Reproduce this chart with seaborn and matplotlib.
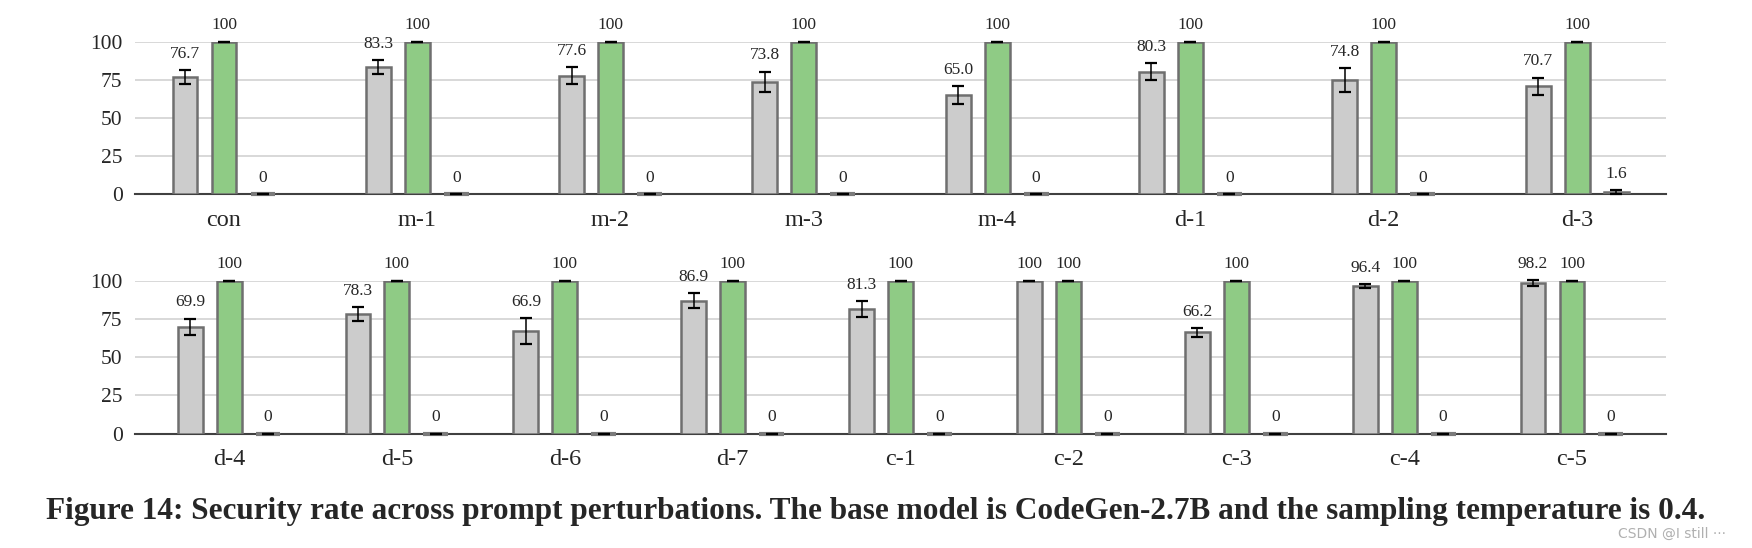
import numpy as np
import pandas as pd
import matplotlib
matplotlib.use('Agg')
import matplotlib.pyplot as plt
import seaborn as sns

# top row
top_cats = ['con', 'm-1', 'm-2', 'm-3', 'm-4', 'd-1', 'd-2', 'd-3']
top_lm = [76.7, 83.3, 77.6, 73.8, 65.0, 80.3, 74.8, 70.7]
top_lm_err = [4.5, 4.4, 5.5, 6.5, 5.7, 5.7, 7.7, 5.7]
top_sec = [100, 100, 100, 100, 100, 100, 100, 100]
top_sec_err = [0, 0, 0, 0, 0, 0, 0, 0]
top_vul = [0, 0, 0, 0, 0, 0, 0, 1.6]
top_vul_err = [0, 0, 0, 0, 0, 0, 0, 1.2]

# bottom row
bot_cats = ['d-4', 'd-5', 'd-6', 'd-7', 'c-1', 'c-2', 'c-3', 'c-4', 'c-5']
bot_lm = [69.9, 78.3, 66.9, 86.9, 81.3, 100, 66.2, 96.4, 98.2]
bot_lm_err = [5.3, 4.4, 8.5, 4.8, 5.3, 0, 2.7, 1.5, 2.0]
bot_sec = [100, 100, 100, 100, 100, 100, 100, 100, 100]
bot_sec_err = [0, 0, 0, 0, 0, 0, 0, 0, 0]
bot_vul = [0, 0, 0, 0, 0, 0, 0, 0, 0]
bot_vul_err = [0, 0, 0, 0, 0, 0, 0, 0, 0]

series = ['LM', 'SVEN-sec', 'SVEN-vul']
colors = ['#cccccc', '#8fcb85', '#f2a7a7']
caption = ('Figure 14: Security rate across prompt perturbations. '
           'The base model is CodeGen-2.7B and the sampling temperature is 0.4.')

sns.set_style('white')
plt.rcParams['font.family'] = ['Liberation Serif', 'DejaVu Serif']


def make_df(cats, lm, sec, vul):
    rows = []
    for name, vals in zip(series, [lm, sec, vul]):
        for c, v in zip(cats, vals):
            rows.append({'cat': c, 'series': name, 'value': v})
    return pd.DataFrame(rows)


def fmt(v):
    return f'{v:.0f}' if v in (0, 100) else f'{v:.1f}'


def draw(ax, cats, lm, lm_err, sec, sec_err, vul, vul_err, width, pad):
    df = make_df(cats, lm, sec, vul)
    sns.barplot(data=df, x='cat', y='value', hue='series', hue_order=series,
                palette=colors, saturation=1, width=width, gap=0.36, errorbar=None,
                edgecolor='#6f6f6f', linewidth=1.8, legend=False, ax=ax, zorder=3)
    for cont, vals, errs in zip(ax.containers, [lm, sec, vul], [lm_err, sec_err, vul_err]):
        xs = [p.get_x() + p.get_width() / 2 for p in cont.patches]
        for p, v in zip(cont.patches, vals):
            if v == 0:
                # flat bar: draw its outline as a thick grey stub on the axis
                ax.plot([p.get_x(), p.get_x() + p.get_width()], [0, 0], color='#7a7a7a',
                        linewidth=3, solid_capstyle='butt', zorder=4, clip_on=False)
        ax.errorbar(xs, vals, yerr=errs, fmt='none', ecolor='black',
                    elinewidth=1.1, capsize=4.2, capthick=1.6, zorder=6, clip_on=False)
        for x, v, e in zip(xs, vals, errs):
            ax.annotate(fmt(v), (x, v + e), xytext=(0, 6), textcoords='offset points',
                        ha='center', va='bottom', fontsize=12.5, annotation_clip=False)
    n = len(cats)
    ax.set_xlim(-pad, n - 1 + pad)
    ax.set_ylim(0, 100)
    ax.set_yticks([0, 25, 50, 75, 100])
    ax.yaxis.grid(True, color='#d6d6d6', linewidth=1.3)
    ax.set_axisbelow(True)
    ax.set_xlabel('')
    ax.set_ylabel('')
    for s in ['top', 'right', 'left']:
        ax.spines[s].set_visible(False)
    ax.spines['bottom'].set_color('#404040')
    ax.spines['bottom'].set_linewidth(1.5)
    ax.spines['bottom'].set_zorder(2.5)
    ax.tick_params(axis='y', length=0, pad=9, labelsize=15.5)
    ax.tick_params(axis='x', length=0, pad=11, labelsize=17.5)


fig = plt.figure(figsize=(17.52, 5.48), dpi=100)
ax1 = fig.add_axes([0.0771, 0.6454, 0.8738, 0.2785])
ax2 = fig.add_axes([0.0771, 0.2086, 0.8738, 0.2792])

draw(ax1, top_cats, top_lm, top_lm_err, top_sec, top_sec_err, top_vul, top_vul_err, 0.605, 0.46)
draw(ax2, bot_cats, bot_lm, bot_lm_err, bot_sec, bot_sec_err, bot_vul, bot_vul_err, 0.696, 0.56)

fig.text(0.5, 0.067, caption, ha='center', va='center', fontsize=22.5, fontweight='bold')
fig.text(0.985, 0.026, 'CSDN @I still \u00b7\u00b7\u00b7', ha='right', va='center',
         fontsize=10, color='#b0b0b0', family=['DejaVu Sans'])

fig.savefig('out.png', dpi=100)
